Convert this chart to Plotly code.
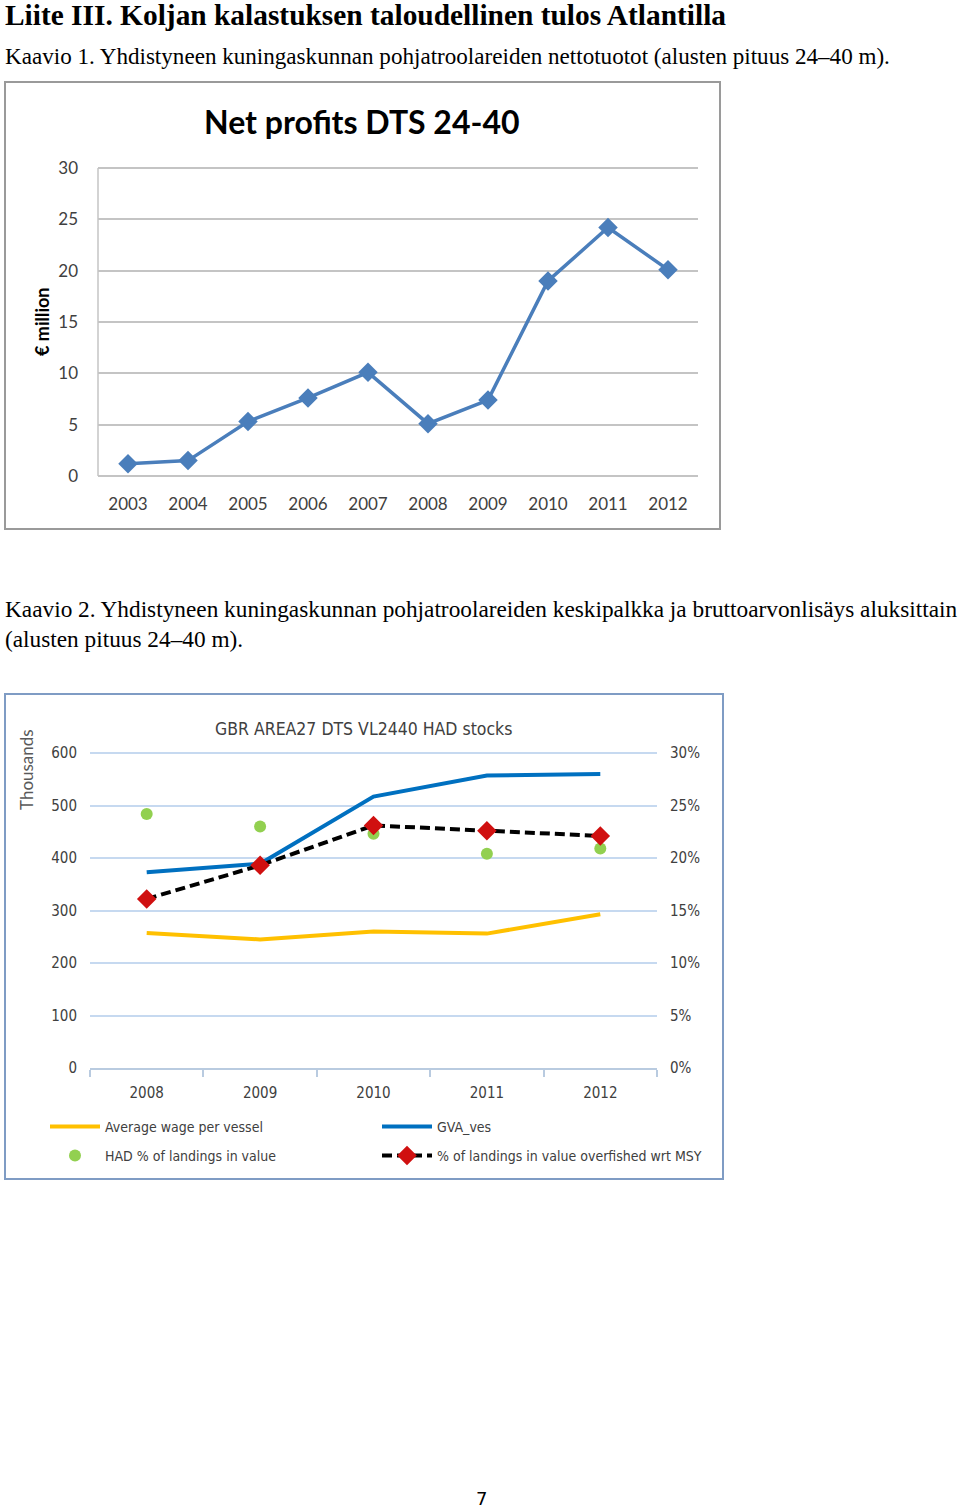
import plotly.graph_objects as go

W, H = 960, 1508

# ---------------- data ----------------
years1 = ["2003", "2004", "2005", "2006", "2007", "2008", "2009", "2010", "2011", "2012"]
net_profit = [1.2, 1.5, 5.3, 7.6, 10.1, 5.1, 7.4, 19.0, 24.2, 20.1]

years2 = ["2008", "2009", "2010", "2011", "2012"]
avg_wage = [257, 245, 260, 256, 293]          # thousands
gva_ves = [373, 389, 517, 557, 560]           # thousands
had_share = [0.242, 0.230, 0.223, 0.204, 0.209]
overfished = [0.161, 0.193, 0.231, 0.226, 0.221]


def px(x):
    return x / W


def py(y):
    return 1 - y / H


SERIF = "Liberation Serif, Times New Roman, serif"
C1FONT = "Lato, Open Sans, sans-serif"
C2FONT = "Liberation Sans Narrow, DejaVu Sans Condensed, Roboto Condensed, Lato, sans-serif"

fig = go.Figure()

# Chart 1
fig.add_trace(go.Scatter(
    x=years1, y=net_profit, mode="lines+markers",
    line=dict(color="#4a7ebb", width=3.5),
    marker=dict(symbol="diamond", size=15, color="#4a7ebb"),
    xaxis="x", yaxis="y", showlegend=False, name="Net profits"))

# Chart 2
fig.add_trace(go.Scatter(
    x=years2, y=avg_wage, mode="lines", name="Average wage per vessel",
    line=dict(color="#ffc000", width=4), xaxis="x2", yaxis="y3", legend="legend"))
fig.add_trace(go.Scatter(
    x=years2, y=gva_ves, mode="lines", name="GVA_ves",
    line=dict(color="#0070c0", width=4), xaxis="x2", yaxis="y3", legend="legend2"))
fig.add_trace(go.Scatter(
    x=years2, y=had_share, mode="markers", name="HAD % of landings in value",
    marker=dict(color="#92d050", size=12), xaxis="x2", yaxis="y4", legend="legend3"))
fig.add_trace(go.Scatter(
    x=years2, y=overfished, mode="lines+markers",
    name="% of landings in value overfished wrt MSY",
    line=dict(color="#000000", width=4, dash="10px,5px"),
    marker=dict(symbol="diamond", size=15, color="#d01010"),
    xaxis="x2", yaxis="y4", legend="legend4"))

tick1 = dict(family=C1FONT, size=17, color="#404040")
tick2 = dict(family=C2FONT, size=15, color="#404040")

annotations = [
    dict(text="<b>Liite III. Koljan kalastuksen taloudellinen tulos Atlantilla</b>",
         x=px(3), y=py(15), xanchor="left", yanchor="middle",
         font=dict(family=SERIF, size=29.4, color="#000")),
    dict(text="Kaavio 1. Yhdistyneen kuningaskunnan pohjatroolareiden nettotuotot (alusten pituus 24–40 m).",
         x=px(3), y=py(56), xanchor="left", yanchor="middle",
         font=dict(family=SERIF, size=23.1, color="#000")),
    dict(text="Kaavio 2. Yhdistyneen kuningaskunnan pohjatroolareiden keskipalkka ja bruttoarvonlisäys aluksittain",
         x=px(3), y=py(609), xanchor="left", yanchor="middle",
         font=dict(family=SERIF, size=23.3, color="#000")),
    dict(text="(alusten pituus 24–40 m).",
         x=px(3), y=py(639), xanchor="left", yanchor="middle",
         font=dict(family=SERIF, size=23.3, color="#000")),
    dict(text="7", x=px(481), y=py(1498), xanchor="center", yanchor="middle",
         font=dict(family="DejaVu Sans, sans-serif", size=18, color="#000")),
    # chart 1 texts
    dict(text="<b>Net profits DTS 24-40</b>", x=px(362), y=py(122),
         xanchor="center", yanchor="middle",
         font=dict(family=C1FONT, size=32, color="#000")),
    dict(text="<b>€ million</b>", x=px(42), y=py(322), textangle=-90,
         xanchor="center", yanchor="middle",
         font=dict(family=C1FONT, size=18, color="#000")),
    # chart 2 texts
    dict(text="GBR AREA27 DTS VL2440 HAD stocks", x=px(363), y=py(729),
         xanchor="center", yanchor="middle",
         font=dict(family=C2FONT, size=17.5, color="#404040")),
    dict(text="Thousands", x=px(26), y=py(770), textangle=-90,
         xanchor="center", yanchor="middle",
         font=dict(family=C1FONT, size=17, color="#595959")),
]
for a in annotations:
    a.update(xref="paper", yref="paper", showarrow=False)

shapes = [
    dict(type="rect", xref="paper", yref="paper",
         x0=px(5), x1=px(720), y0=py(529), y1=py(82),
         line=dict(color="#9a9a9a", width=2), fillcolor="rgba(0,0,0,0)"),
    dict(type="rect", xref="paper", yref="paper",
         x0=px(5), x1=px(723), y0=py(1179), y1=py(694),
         line=dict(color="#7f9cc4", width=2), fillcolor="rgba(0,0,0,0)"),
]


def leg(x, y):
    return dict(orientation="h", x=px(x), y=py(y), xanchor="left", yanchor="middle",
                itemwidth=50, bgcolor="rgba(0,0,0,0)",
                font=dict(family=C2FONT, size=14, color="#404040"))


# plot heights: chart 1 -> 0..30 spans 476..168 px; chart 2 -> 0..600 spans 1068..753 px
c1_top = 168 - 0.3 * (476 - 168) / 30
c2_top = 753 - 6 * (1068 - 753) / 600

fig.update_layout(
    width=W, height=H,
    margin=dict(l=0, r=0, t=0, b=0, autoexpand=False),
    paper_bgcolor="white", plot_bgcolor="rgba(0,0,0,0)",
    annotations=annotations, shapes=shapes,
    xaxis=dict(domain=[px(98), px(698)], anchor="y", type="category",
               range=[-0.5, 9.5], showgrid=False, zeroline=False, showline=False,
               ticks="", tickfont=tick1, ticklabelstandoff=16),
    yaxis=dict(domain=[py(476), py(c1_top)], anchor="x", range=[0, 30.3], dtick=5,
               showgrid=True, gridcolor="#c4c4c4", gridwidth=2,
               zeroline=True, zerolinecolor="#c4c4c4", zerolinewidth=2,
               showline=False, ticks="", tickfont=tick1, ticklabelstandoff=19),
    xaxis2=dict(domain=[px(90), px(657)], anchor="y3", type="category",
                range=[-0.5, 4.5], showgrid=False, zeroline=False,
                showline=True, linecolor="#b9cbe0", linewidth=1.5,
                ticks="outside", tickson="boundaries", ticklen=7,
                tickcolor="#b9cbe0", tickwidth=1.5,
                tickfont=tick2, ticklabelstandoff=10),
    yaxis3=dict(domain=[py(1068), py(c2_top)], anchor="x2", range=[0, 606], dtick=100,
                showgrid=True, gridcolor="#c6d9f0", gridwidth=1.5,
                zeroline=False, showline=False, ticks="",
                tickfont=tick2, ticklabelstandoff=12),
    yaxis4=dict(overlaying="y3", anchor="x2", side="right", range=[0, 0.303],
                dtick=0.05, tickformat=".0%", showgrid=False, zeroline=False,
                showline=False, ticks="", tickfont=tick2, ticklabelstandoff=12),
    legend=leg(45, 1127),
    legend2=leg(377, 1127),
    legend3=leg(45, 1156),
    legend4=leg(377, 1156),
)

# vertical axis line of chart 1 (from 0 to 30 only), drawn in data coordinates
fig.add_shape(type="line", xref="x domain", yref="y", x0=0, x1=0, y0=0, y1=30,
              line=dict(color="#c4c4c4", width=1.5))

fig.write_html("out.html", config={"displayModeBar": False},
               post_script="document.body.style.margin='0px';")
